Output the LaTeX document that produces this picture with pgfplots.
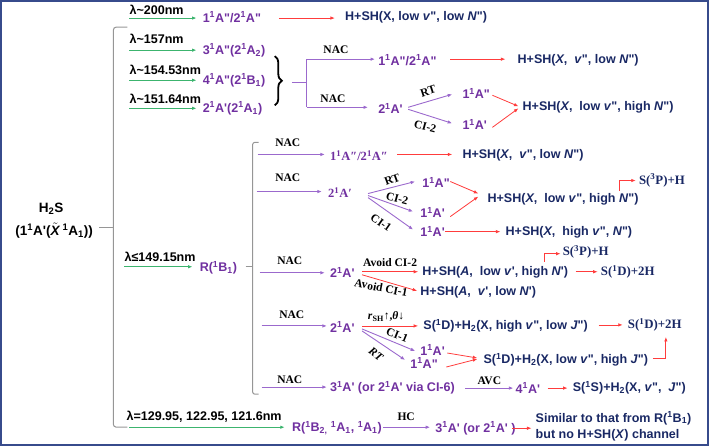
\documentclass[border=0pt]{standalone}
\usepackage{fontspec}
\usepackage{pgfplots}
\pgfplotsset{compat=1.18}
\usetikzlibrary{arrows.meta,decorations.pathreplacing}
\newfontfamily\sa{Liberation Sans}
\newfontfamily\se{Liberation Serif}
\definecolor{grn}{RGB}{60,180,110}
\definecolor{pur}{RGB}{112,48,160}
\definecolor{purl}{RGB}{155,105,205}
\definecolor{redc}{RGB}{255,60,60}
\definecolor{nav}{RGB}{25,40,100}
\definecolor{brd}{RGB}{55,75,140}
\definecolor{gryb}{RGB}{150,150,150}
\newcommand\TA{\fontsize{12.5bp}{15bp}\selectfont\sa\bfseries}
\newcommand\TB{\fontsize{12.5bp}{15bp}\selectfont\se\bfseries}
\newcommand\TN{\fontsize{11.5bp}{14bp}\selectfont\se\bfseries}
\newcommand\TP{\fontsize{12.8bp}{15bp}\selectfont\se\bfseries}
\newcommand\Su[1]{\textsuperscript{#1}}
\newcommand\Sb[1]{\textsubscript{#1}}
\newcommand\qq{\textquotedbl}
\newcommand\qs{\textquotesingle}
\newcommand\txt[4]{\node[anchor=west,inner sep=0pt,text=#3] at (axis cs:#1,#2) {#4};}
\newcommand\lab[4]{\node[inner sep=0pt,rotate=#3] at (axis cs:#1,#2) {#4};}
\tikzset{
  tip/.style={-{Latex[length=4.5bp,width=3.5bp]}},
  ga/.style={draw=grn,line width=0.9bp,tip},
  pa/.style={draw=purl,line width=0.9bp,tip},
  ra/.style={draw=redc,line width=0.8bp,tip},
}
\begin{document}
\begin{tikzpicture}
\begin{axis}[width=709bp,height=447bp,scale only axis,
  xmin=0,xmax=709,ymin=0,ymax=447,y dir=reverse,
  axis lines=none,clip=false]
% frame
\draw[brd,line width=2bp] (axis cs:2,2) rectangle (axis cs:707,445);
% brackets
\draw[gryb,line width=1bp,rounded corners=3bp] (axis cs:128,28) -- (axis cs:114,28) -- (axis cs:114,427) -- (axis cs:128,427);
\draw[gryb,line width=1bp] (axis cs:100,228) -- (axis cs:114,228);
\draw[gryb,line width=1bp,rounded corners=2bp] (axis cs:259,143) -- (axis cs:253,143) -- (axis cs:253,394) -- (axis cs:259,394);
\draw[gryb,line width=1bp] (axis cs:246,267) -- (axis cs:253,267);
% curly brace
\draw[decorate,decoration={brace,amplitude=7bp},line width=1.8bp] (axis cs:275,57) -- (axis cs:275,106);
\addplot[draw=purl,line width=0.9bp] coordinates {(292,83) (307,83)};
\addplot[draw=purl,line width=0.9bp] coordinates {(307,60) (307,108)};
% H2S
\node[inner sep=0pt] at (axis cs:52,209) {\fontsize{13.5bp}{16bp}\selectfont\sa\bfseries H\Sb{2}S};
\node[inner sep=0pt] at (axis cs:55,231) {\fontsize{13.5bp}{16bp}\selectfont\sa\bfseries (1\Su{1}A\qs($\tilde{\mbox{\textit{X}}}$\,\Su{1}A\Sb{1}))};
% green arrows and lambda labels
\addplot[ga] coordinates {(130,19) (197,19)};
\addplot[ga] coordinates {(130,51) (197,51)};
\addplot[ga] coordinates {(130,81) (197,81)};
\addplot[ga] coordinates {(130,109) (197,109)};
\addplot[ga] coordinates {(125,267) (193,267)};
\addplot[ga] coordinates {(130,427) (285,427)};
\txt{130}{11}{black}{\TA λ\textasciitilde200nm}
\txt{130}{40}{black}{\TA λ\textasciitilde157nm}
\txt{130}{71}{black}{\TA λ\textasciitilde154.53nm}
\txt{130}{100}{black}{\TA λ\textasciitilde151.64nm}
\txt{125}{257}{black}{\TA λ≤149.15nm}
\txt{127}{417}{black}{\TA λ=129.95, 122.95, 121.6nm}
% purple states from lambda
\txt{203}{18}{pur}{\TA 1\Su{1}A\qq/2\Su{1}A\qq}
\txt{203}{51}{pur}{\TA 3\Su{1}A\qq(2\Su{1}A\Sb{2})}
\txt{203}{81}{pur}{\TA 4\Su{1}A\qq(2\Su{1}B\Sb{1})}
\txt{203}{109}{pur}{\TA 2\Su{1}A\qs(2\Su{1}A\Sb{1})}
\txt{200}{268}{pur}{\TA R(\Su{1}B\Sb{1})}
\txt{292}{428}{pur}{\TA R(\Su{1}B\Sb{2,} \Su{1}A\Sb{1}, \Su{1}A\Sb{1})}
% top row
\addplot[ra] coordinates {(279,19) (335,19)};
\txt{345}{18}{nav}{\TA H+SH(X, low \textit{v}\qq, low \textit{N}\qq)}
% brace group
\lab{336}{51}{0}{\TN NAC}
\lab{333}{99}{0}{\TN NAC}
\addplot[pa] coordinates {(307,60) (375,60)};
\addplot[pa] coordinates {(307,108) (368,108)};
\txt{378}{61}{pur}{\TA 1\Su{1}A\qq/2\Su{1}A\qq}
\addplot[ra] coordinates {(450,60) (505,60)};
\txt{517}{61}{nav}{\TA H+SH(\textit{X},\ \ \textit{v}\qq, low \textit{N}\qq)}
\txt{378}{109}{pur}{\TA 2\Su{1}A\qs}
\addplot[pa] coordinates {(408,108) (452,95)};
\addplot[pa] coordinates {(408,110) (452,124)};
\lab{428}{92}{18}{\TN RT}
\lab{425}{127}{-15}{\TN CI-2}
\txt{462}{94}{pur}{\TA 1\Su{1}A\qq}
\txt{462}{125}{pur}{\TA 1\Su{1}A\qs}
\addplot[ra] coordinates {(492,96) (518,107)};
\addplot[ra] coordinates {(492,128) (518,109)};
\txt{522}{108}{nav}{\TA H+SH(\textit{X},\ \ low \textit{v}\qq, high \textit{N}\qq)}
% section R(1B1): row A
\lab{288}{143}{0}{\TN NAC}
\addplot[pa] coordinates {(258,155) (325,155)};
\txt{330}{156}{pur}{\TB 1\Su{1}A″/2\Su{1}A″}
\addplot[ra] coordinates {(397,155) (452,155)};
\txt{462}{156}{nav}{\TA H+SH(\textit{X},\ \ \textit{v}\qq, low \textit{N}\qq)}
% row B
\lab{288}{178}{0}{\TN NAC}
\addplot[pa] coordinates {(257,192) (322,192)};
\txt{328}{193}{pur}{\TB 2\Su{1}A′}
\addplot[pa] coordinates {(368,194) (415,182)};
\addplot[pa] coordinates {(368,196) (413,212)};
\addplot[pa] coordinates {(368,198) (413,230)};
\lab{392}{180}{20}{\TN RT}
\lab{397}{199}{-15}{\TN CI-2}
\lab{381}{223}{-35}{\TN CI-1}
\txt{422}{183}{pur}{\TA 1\Su{1}A\qq}
\txt{420}{213}{pur}{\TA 1\Su{1}A\qs}
\txt{420}{232}{pur}{\TA 1\Su{1}A\qs}
\addplot[ra] coordinates {(450,182) (478,194)};
\addplot[ra] coordinates {(450,217) (478,197)};
\txt{487}{200}{nav}{\TA H+SH(\textit{X},\ \ low \textit{v}\qq, high \textit{N}\qq)}
\addplot[ra] coordinates {(619,191) (619,181) (635,181)};
\txt{638}{181}{nav}{\TP S(\Su{3}P)+H}
\addplot[ra] coordinates {(445,232) (500,232)};
\txt{505}{233}{nav}{\TA H+SH(\textit{X},\ \ high \textit{v}\qq, \textit{N}\qq)}
% row C
\lab{290}{261}{0}{\TN NAC}
\addplot[pa] coordinates {(260,273) (325,273)};
\txt{330}{273}{pur}{\TA 2\Su{1}A\qs}
\lab{390}{263}{0}{\TN Avoid CI-2}
\addplot[ra] coordinates {(362,272) (418,272)};
\txt{422}{273}{nav}{\TA H+SH(\textit{A},\ \ low \textit{v}\qs, high \textit{N}\qs)}
\addplot[ra] coordinates {(362,275) (417,291)};
\lab{381}{288}{-11}{\TN Avoid CI-1}
\txt{420}{292}{nav}{\TA H+SH(\textit{A},\ \ \textit{v}\qs, low \textit{N}\qs)}
\addplot[ra] coordinates {(544,262) (544,254) (560,254)};
\txt{562}{252}{nav}{\TP S(\Su{3}P)+H}
\addplot[ra] coordinates {(575,272) (597,272)};
\txt{600}{272}{nav}{\TP S(\Su{1}D)+2H}
% row D
\lab{292}{315}{0}{\TN NAC}
\addplot[pa] coordinates {(262,326) (327,326)};
\txt{330}{327}{pur}{\TA 2\Su{1}A\qs}
\lab{386}{317}{0}{\TN \textit{r}\Sb{SH}↑,\textit{θ}↓}
\addplot[ra] coordinates {(362,326) (418,326)};
\txt{423}{326}{nav}{\TA S(\Su{1}D)+H\Sb{2}(X, high \textit{v}\qq, low \textit{J}\qq)}
\addplot[ra] coordinates {(598,325) (622,325)};
\txt{627}{325}{nav}{\TP S(\Su{1}D)+2H}
\addplot[pa] coordinates {(362,329) (415,351)};
\addplot[pa] coordinates {(362,331) (405,360)};
\lab{397}{335}{-22}{\TN CI-1}
\lab{376}{354}{-38}{\TN\itshape RT}
\txt{420}{350}{pur}{\TA 1\Su{1}A\qs}
\txt{410}{363}{pur}{\TA 1\Su{1}A\qq}
\addplot[ra] coordinates {(447,353) (477,358)};
\addplot[ra] coordinates {(446,367) (477,359)};
\txt{483}{360}{nav}{\TA S(\Su{1}D)+H\Sb{2}(X, low \textit{v}\qq, high \textit{J}\qq)}
\addplot[ra] coordinates {(652,358) (665,358) (665,337)};
% row E
\lab{290}{380}{0}{\TN NAC}
\addplot[pa] coordinates {(262,387) (327,387)};
\txt{330}{388}{pur}{\TA 3\Su{1}A\qs\ (or 2\Su{1}A\qs\ via CI-6)}
\lab{489}{381}{0}{\TN AVC}
\addplot[pa] coordinates {(465,388) (513,388)};
\txt{515}{388}{pur}{\TA 4\Su{1}A\qs}
\addplot[ra] coordinates {(547,388) (567,388)};
\txt{572}{388}{nav}{\TA S(\Su{1}S)+H\Sb{2}(X, \textit{v}\qq,\ \ \textit{J}\qq)}
% bottom row
\lab{406}{417}{0}{\TN HC}
\addplot[pa] coordinates {(383,427) (430,427)};
\txt{435}{428}{pur}{\TA 3\Su{1}A\qs\ (or 2\Su{1}A\qs\ )}
\addplot[ra] coordinates {(512,428) (531,428)};
\txt{535}{418}{nav}{\TA Similar to that from R(\Su{1}B\Sb{1})}
\txt{535}{435}{nav}{\TA but no H+SH(\textit{X}) channel}
\end{axis}
\end{tikzpicture}
\end{document}
